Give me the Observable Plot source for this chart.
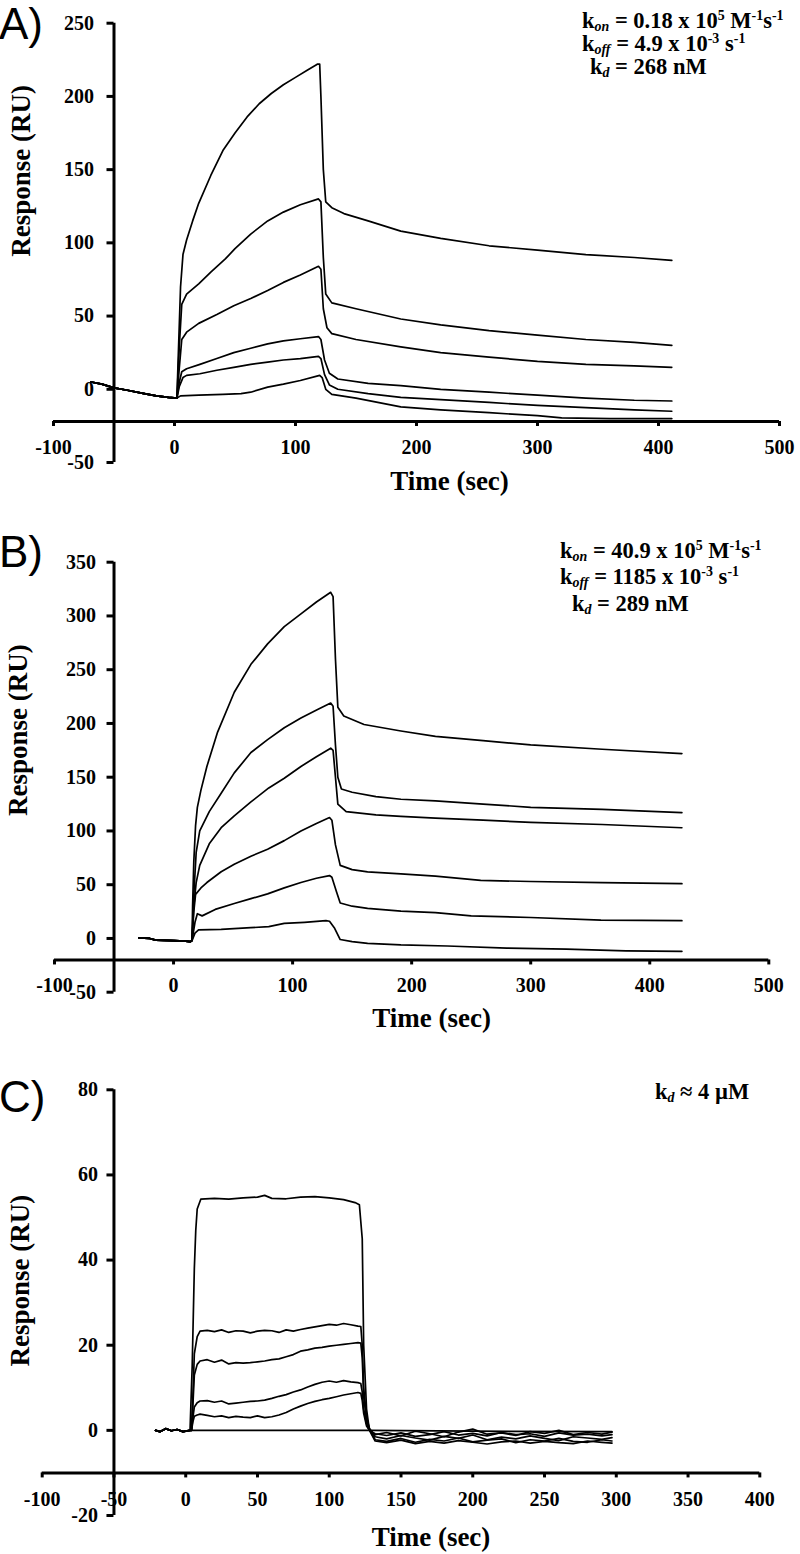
<!DOCTYPE html>
<html><head><meta charset="utf-8">
<script src="https://cdn.jsdelivr.net/npm/d3@7"></script>
<script src="https://cdn.jsdelivr.net/npm/@observablehq/plot@0.6"></script>
<style>
body{margin:0;background:#fff;}
#wrap{position:relative;width:800px;height:1554px;overflow:hidden;background:#fff;}
.panel{position:absolute;left:0;}
.ann{position:absolute;font-family:"Liberation Serif","Times New Roman",serif;font-weight:bold;font-size:22.5px;line-height:18px;white-space:nowrap;color:#000;}
.ann sub,.ann sup{line-height:0;font-size:0.62em;vertical-align:baseline;position:relative;}
.ann sup{top:-0.55em;}
.ann sub{top:0.22em;font-style:italic;}
.letter{position:absolute;font-family:"Liberation Sans",Arial,sans-serif;font-size:44px;line-height:44px;color:#000;}
</style>
</head><body>
<div id="wrap"></div>
<script>
// ---------------- DATA ----------------
// Panel A
const A_xTicks = [-100, 0, 100, 200, 300, 400, 500];
const A_yTicks = [-50, 0, 50, 100, 150, 200, 250];
const A_base = [[-69,5],[-60,3.5],[-50,1],[-40,-0.5],[-25,-3],[-15,-4.5],[-5,-5.5],[2,-6]];
const A1 = [[3,20],[5,70],[7,92],[10,102],[15,115],[20,127],[30,146],[40,163],[50,175],[60,186],[70,195],[80,202],[90,208],[100,213],[110,218],[118,222],[120,222],[121,200],[123,150],[125,128],[130,124],[140,120],[160,115],[187,108],[220,103],[260,98],[300,95],[340,92],[380,90],[411,88]];
const A2 = [[4,30],[6,58],[10,65],[20,72],[30,80],[42,89],[50,96],[63,106],[77,115],[90,121],[104,126],[119,130],[121,128],[123,90],[125,65],[130,59],[150,55],[187,48],[220,44],[260,40],[300,37],[340,34],[380,32],[411,30]];
const A3 = [[4,15],[6,34],[10,39],[20,45],[35,51],[49,57],[63,62],[77,67.5],[90,73],[104,78],[119,84],[121,82],[123,55],[126,42],[130,38],[150,34],[187,29],[220,25],[260,22],[300,19],[340,17],[380,16],[411,15]];
const A4 = [[4,5],[6,12],[10,14],[21,17],[35,21],[49,25],[63,28],[77,31],[90,33],[104,34.5],[119,36],[121,34],[124,20],[128,11],[135,7],[160,4],[187,2.5],[220,0],[260,-2],[300,-4],[340,-6],[380,-7.5],[411,-8]];
const A5 = [[4,2],[7,8],[10,9.5],[21,10.6],[35,13],[49,15],[63,17],[77,18.5],[90,20],[104,21],[119,22.5],[121,21],[124,10],[128,3],[135,0],[160,-3],[187,-5.5],[220,-7],[260,-9],[300,-11],[340,-12.5],[380,-14],[411,-15]];
const A6 = [[5,-4.5],[20,-4],[40,-3.5],[55,-3],[63,-2],[77,1.5],[90,3.5],[104,6],[120,9.5],[122,8],[125,0],[130,-3.5],[150,-6],[187,-12],[220,-14],[260,-16],[300,-18],[320,-19.5],[360,-20],[411,-20]];

// Panel B
const B_xTicks = [-100, 0, 100, 200, 300, 400, 500];
const B_yTicks = [-50, 0, 50, 100, 150, 200, 250, 300, 350];
const B_base = [[-29,0.5],[-20,0],[-15,-1.5],[0,-2],[10,-2.5],[14,-3],[15.5,-2]];
const B1 = [[16,30],[17,71],[18.5,105],[20,122],[23,138],[28,160],[37,192],[51,229],[65,255],[79,274],[93,290],[107,302],[120,313],[132,322],[134,318],[136,260],[138,215],[143,207],[160,199],[191,193],[220,188],[260,184],[300,180],[360,176],[427,172]];
const B2 = [[17,40],[19,80],[22,100],[30,118],[40,135],[51,154],[65,173],[79,185],[93,196],[107,205],[121,213],[132,219],[134,216],[136,180],[138,150],[141,139],[150,136],[170,132],[191,129.5],[220,128],[260,125],[300,122],[360,120],[427,117]];
const B3 = [[17,30],[19,52],[22,68],[30,88],[40,103],[51,114],[65,127],[80,140],[93,149],[107,160],[120,169],[132,177],[134,175],[136,150],[138,125],[145,118],[170,115],[191,113.5],[220,112],[260,110],[300,108],[360,106],[427,103]];
const B4 = [[17,25],[18.5,41],[23,47],[28,52],[40,62],[51,69],[65,76.5],[79,83],[93,91],[107,100],[120,107],[131,112.5],[133,110],[136,87],[140,68],[150,64],[163,62],[191,60],[220,58],[258,54],[300,53],[360,52],[427,51]];
const B5 = [[18,15],[20,23],[24,21],[35,27],[51,32.5],[65,37],[79,41.5],[93,47],[107,52],[120,56],[131,58.5],[133,57],[137,43],[140,33],[150,30],[163,28],[191,25.5],[220,24],[250,21],[300,19.5],[359,17],[427,16.5]];
const B6 = [[18,5],[21,8],[40,8.5],[65,10],[80,11],[93,14],[110,15],[128,16.5],[131,16],[135,10],[140,-1],[150,-3],[163,-4.5],[191,-6],[230,-7],[280,-9],[330,-10],[380,-11.5],[427,-12]];

// Panel C
const C_xTicks = [-100, -50, 0, 50, 100, 150, 200, 250, 300, 350, 400];
const C_yTicks = [-20, 0, 20, 40, 60, 80];
const C_base = [[-21,0],[-18,-0.3],[-14,0.4],[-10,-0.1],[-6,0.2],[-2,-0.3],[3,0]];
const C1 = [[4.5,15],[6,38],[7,47],[8,52],[10.5,54.3],[20,54.5],[30,54.3],[40,54.6],[50,54.8],[55,55.2],[60,54.5],[70,54.4],[80,54.8],[90,54.9],[100,54.6],[110,54.2],[118,53.5],[121,53],[123,45],[124,20],[126,5],[128,0],[132,-0.8],[140,-1.2],[150,-0.6],[160,-1.4],[170,-1.0],[180,-0.3],[190,-1.1],[200,-0.7],[210,-1.3],[220,-0.5],[230,-1.0],[240,-0.8],[250,-1.4],[260,-0.6],[270,-1.1],[280,-0.9],[290,-1.3],[297,-1.0]];
const C2 = [[4,0],[5,8],[6,18],[8,22],[10,23.3],[15,23.5],[20,23.2],[25,23.6],[30,23.0],[35,23.4],[40,23.3],[45,22.9],[50,23.3],[55,23.5],[60,23.4],[65,23.0],[70,23.6],[75,23.3],[80,23.7],[85,24.0],[90,24.3],[95,24.6],[100,24.9],[105,24.7],[110,25.1],[115,24.8],[120,24.5],[122,24.4],[123,20],[124,10],[126,3],[128,0.5],[132,-1.5],[140,-2.0],[150,-1.2],[160,-1.8],[170,-2.3],[180,-1.4],[190,-1.9],[200,-1.1],[210,-2.2],[220,-1.6],[230,-2.0],[240,-1.3],[250,-1.9],[260,-2.4],[270,-1.5],[280,-1.8],[290,-2.1],[297,-1.7]];
const C3 = [[4,0],[5,6],[6,13],[8,15.5],[10,16.3],[15,16.6],[20,16.0],[25,16.5],[30,15.6],[35,15.9],[40,15.8],[45,15.9],[50,16.1],[55,16.3],[60,16.6],[65,16.8],[70,17.3],[75,17.8],[80,18.6],[85,18.9],[90,19.3],[95,19.5],[100,19.8],[105,20.0],[110,20.2],[115,20.4],[120,20.6],[122,20.5],[123,17],[124,8],[126,2.5],[128,0.3],[132,-2.2],[140,-2.6],[150,-1.9],[160,-2.8],[170,-2.1],[180,-2.5],[190,-1.8],[200,-2.7],[210,-2.3],[220,-2.0],[230,-2.9],[240,-2.2],[250,-2.5],[260,-1.9],[270,-2.6],[280,-2.8],[290,-2.2],[297,-2.5]];
const C4 = [[4,0],[5,3],[6,5.5],[8,6.5],[10,6.9],[15,7.0],[20,6.6],[25,6.9],[30,6.2],[35,6.4],[40,6.6],[45,6.8],[50,6.9],[55,7.1],[60,7.5],[65,8.0],[70,8.4],[75,9.0],[80,9.5],[85,10.2],[90,10.8],[95,11.3],[100,11.6],[105,11.3],[110,11.7],[115,11.4],[120,11.2],[122,11.0],[123,9],[124,5],[126,1.5],[128,0],[132,-1.0],[140,-0.5],[150,-1.3],[160,-0.2],[170,-0.8],[180,-1.5],[190,-0.4],[200,0.3],[210,-0.9],[220,-0.6],[230,-1.2],[240,-0.3],[250,-0.7],[260,0.0],[270,-1.0],[280,-0.5],[290,-0.9],[297,-0.4]];
const C5 = [[4,0],[5,2],[6,3.3],[8,3.6],[10,3.8],[15,3.5],[20,3.2],[25,3.4],[30,3.0],[35,3.3],[40,3.1],[45,3.0],[50,3.4],[55,3.0],[60,3.2],[65,3.6],[70,4.2],[75,5.0],[80,5.7],[85,6.3],[90,6.8],[95,7.2],[100,7.5],[105,7.9],[110,8.3],[115,8.6],[120,8.9],[122,8.7],[123,7],[124,4],[126,1],[128,0],[132,-2.5],[140,-2.9],[150,-2.3],[160,-3.1],[170,-2.6],[180,-3.0],[190,-2.4],[200,-2.8],[210,-3.2],[220,-2.7],[230,-2.5],[240,-3.0],[250,-2.6],[260,-2.9],[270,-3.1],[280,-2.5],[290,-2.8],[297,-3.0]];
const C6 = [[4,0],[60,0],[128,0],[200,-0.2],[297,-0.3]];

// Text
const xTitle = "Time (sec)";
const yTitle = "Response (RU)";
const panelLetters = ["A)", "B)", "C)"];
const annA = ["k<sub>on</sub> = 0.18 x 10<sup>5</sup> M<sup>-1</sup>s<sup>-1</sup>", "k<sub>off</sub> = 4.9 x 10<sup>-3</sup> s<sup>-1</sup>", "k<sub>d</sub> = 268 nM"];
const annB = ["k<sub>on</sub> = 40.9 x 10<sup>5</sup> M<sup>-1</sup>s<sup>-1</sup>", "k<sub>off</sub> = 1185 x 10<sup>-3</sup> s<sup>-1</sup>", "k<sub>d</sub> = 289 nM"];
const annC = ["k<sub>d</sub> ≈ 4 µM"];

// ---------------- DRAW ----------------
const font = {fontFamily: '"Liberation Serif","Times New Roman",serif', fontWeight: "bold", fill: "#000"};

function drawPanel(p) {
  const rows = p.series.flatMap((pts, i) => pts.map(([t, v]) => ({id: i, t, v})));
  const innerH = p.height - p.mt - p.mb, innerW = 800 - p.ml - p.mr;
  const yPerPx = (p.yDomain[1] - p.yDomain[0]) / innerH;
  const xPerPx = (p.xDomain[1] - p.xDomain[0]) / innerW;
  return Plot.plot({
    width: 800, height: p.height,
    marginTop: p.mt, marginBottom: p.mb, marginLeft: p.ml, marginRight: p.mr,
    x: {domain: p.xDomain, axis: null},
    y: {domain: p.yDomain, axis: null},
    style: {background: "transparent", overflow: "visible"},
    marks: [
      Plot.line(rows, {x: "t", y: "v", z: "id", stroke: "#000", strokeWidth: 1.7}),
      Plot.ruleY([p.xCross], {x1: p.xDomain[0], x2: p.xDomain[1], stroke: "#000", strokeWidth: 3}),
      Plot.ruleX([p.yCross], {y1: p.yDomain[0], y2: p.yDomain[1], stroke: "#000", strokeWidth: 3}),
      Plot.ruleX(p.xTicks, {x: d => d, y1: p.xCross, y2: p.xCross - 5 * yPerPx, stroke: "#000", strokeWidth: 3}),
      Plot.ruleY(p.yTicks, {y: d => d, x1: p.yCross, x2: p.yCross - 7 * xPerPx, stroke: "#000", strokeWidth: 3}),
      Plot.text(p.xTicks, {x: d => d, y: p.xCross, dy: p.xLabDy, text: d => String(d), fontSize: 20, ...font}),
      Plot.text(p.yTicks, {x: p.yCross, y: d => d, dx: p.yLabDx, textAnchor: "end", text: d => String(d), fontSize: 20, ...font}),
      Plot.text([xTitle], {frameAnchor: "bottom", textAnchor: "middle", lineAnchor: "middle", dx: p.xtDx, dy: p.xtDy, text: d => d, fontSize: 27, ...font}),
      Plot.text([yTitle], {frameAnchor: "left", textAnchor: "middle", lineAnchor: "middle", rotate: -90, dx: p.ytDx, dy: p.ytDy, text: d => d, fontSize: 27, ...font})
    ]
  });
}

const wrap = document.getElementById("wrap");
const panels = [
  {top: 0, height: 505, mt: 22.7, mb: 43, ml: 53, mr: 21,
   xDomain: [-100, 500], yDomain: [-50, 250], xTicks: A_xTicks, yTicks: A_yTicks, xCross: -22, yCross: -50,
   xLabDy: 26, yLabDx: -20, xtDx: 33, xtDy: 19, ytDx: -32, ytDy: -72,
   series: [A1, A2, A3, A4, A5, A6].map(s => A_base.concat(s))},
  {top: 505, height: 535, mt: 56.7, mb: 48.3, ml: 54, mr: 31.7,
   xDomain: [-100, 500], yDomain: [-50, 350], xTicks: B_xTicks, yTicks: B_yTicks, xCross: -20, yCross: -50,
   xLabDy: 26, yLabDx: -18, xtDx: 20, xtDy: 26, ytDx: -36, ytDy: -47,
   series: [B1, B2, B3, B4, B5, B6].map(s => B_base.concat(s))},
  {top: 1040, height: 514, mt: 49.3, mb: 39, ml: 41.7, mr: 40.7,
   xDomain: [-100, 400], yDomain: [-20, 80], xTicks: C_xTicks, yTicks: C_yTicks, xCross: -10, yCross: -50,
   xLabDy: 27, yLabDx: -16, xtDx: 30, xtDy: 22, ytDx: -22, ytDy: -22,
   series: [C1, C2, C3, C4, C5, C6].map(s => C_base.concat(s))}
];
panels.forEach(p => {
  const svg = drawPanel(p);
  svg.classList.add("panel");
  svg.style.top = p.top + "px";
  wrap.appendChild(svg);
});

// panel letters
const letterTops = [2, 530, 1075];
panelLetters.forEach((L, i) => {
  const d = document.createElement("div");
  d.className = "letter";
  d.style.left = "-1px";
  d.style.top = letterTops[i] + "px";
  d.textContent = L;
  wrap.appendChild(d);
});

// annotations: line-height 18px, font 22.5px -> baseline = top + 15.5
function addAnn(lines, lefts, baselines) {
  lines.forEach((html, i) => {
    const d = document.createElement("div");
    d.className = "ann";
    d.style.left = lefts[i] + "px";
    d.style.top = (baselines[i] - 15.5) + "px";
    d.innerHTML = html;
    wrap.appendChild(d);
  });
}
addAnn(annA, [582, 582, 590], [27, 50, 73]);
addAnn(annB, [560, 560, 572], [557, 583, 610]);
addAnn(annC, [655], [1098]);
</script>
</body></html>
